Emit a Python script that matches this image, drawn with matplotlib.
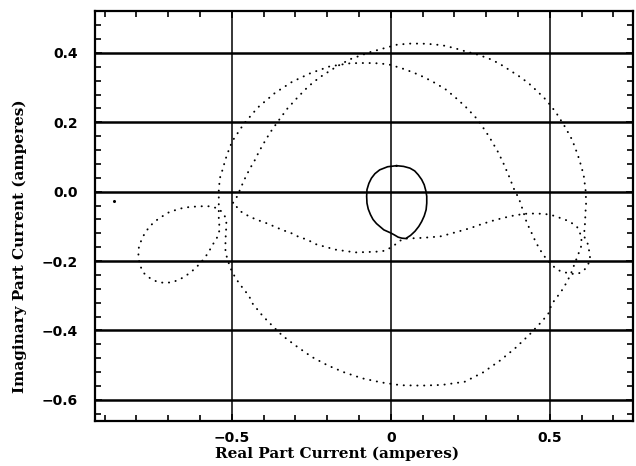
import numpy as np
import matplotlib
matplotlib.use('Agg')
import matplotlib.pyplot as plt
from matplotlib.ticker import MultipleLocator

plt.rcParams['font.family'] = ['DejaVu Serif']
plt.rcParams['font.weight'] = 'bold'

# dotted locus in drawing order (one closed trace)
locus_x = [-0.496, -0.483, -0.472, -0.462, -0.452, -0.439, -0.427, -0.417, -0.404, -0.38,
           -0.353, -0.325, -0.292, -0.26, -0.225, -0.17, -0.128, -0.063, -0.019, 0.02,
           0.06, 0.097, 0.135, 0.168, 0.2, 0.237, 0.27, 0.306, 0.34, 0.371,
           0.403, 0.433, 0.46, 0.488, 0.519, 0.547, 0.57, 0.588, 0.6, 0.607,
           0.613, 0.614, 0.612, 0.611, 0.609, 0.607,
           0.619, 0.624, 0.627, 0.619, 0.607, 0.59, 0.569, 0.554, 0.535, 0.517,
           0.5, 0.487, 0.477, 0.466, 0.456, 0.447, 0.437, 0.427, 0.414, 0.403,
           0.389, 0.371, 0.355, 0.338, 0.309, 0.274, 0.234, 0.205, 0.174, 0.14,
           0.105, 0.07, 0.034, -0.003, -0.035, -0.069, -0.1, -0.13, -0.16, -0.193,
           -0.252, -0.31, -0.364, -0.418, -0.462, -0.499, -0.515, -0.522, -0.528, -0.536,
           -0.539, -0.541, -0.541, -0.541, -0.541, -0.541, -0.538, -0.543, -0.557, -0.57,
           -0.583, -0.6, -0.62, -0.641, -0.662, -0.687, -0.713, -0.736, -0.755, -0.775,
           -0.789, -0.794, -0.792, -0.778, -0.759, -0.731, -0.699, -0.665, -0.633, -0.599,
           -0.565, -0.54, -0.525, -0.517, -0.518, -0.52, -0.52, -0.51, -0.499,
           -0.483, -0.464, -0.446, -0.436, -0.404, -0.383, -0.341, -0.296, -0.249, -0.198,
           -0.146, -0.09, -0.029, 0.032, 0.097, 0.161, 0.232, 0.29, 0.343, 0.39,
           0.436, 0.477, 0.498, 0.505, 0.524, 0.543, 0.565, 0.577, 0.588, 0.598,
           0.6, 0.585, 0.56, 0.54, 0.508, 0.484, 0.456, 0.43, 0.405, 0.379,
           0.33, 0.287, 0.25, 0.215, 0.184, 0.155, 0.1, 0.05, 0.037, 0.016,
           -0.016, -0.047, -0.111, -0.174, -0.237, -0.263, -0.288, -0.314, -0.342, -0.367,
           -0.393, -0.421, -0.446, -0.472, -0.496]
locus_y = [-0.032, -0.013, 0.011, 0.032, 0.051, 0.073, 0.092, 0.111, 0.133, 0.17,
           0.205, 0.24, 0.273, 0.303, 0.329, 0.361, 0.382, 0.403, 0.414, 0.424,
           0.427, 0.427, 0.425, 0.421, 0.414, 0.404, 0.396, 0.385, 0.37, 0.352,
           0.333, 0.313, 0.29, 0.265, 0.229, 0.188, 0.15, 0.106, 0.07, 0.044,
           0.0, -0.037, -0.06, -0.086, -0.11, -0.127,
           -0.15, -0.172, -0.194, -0.213, -0.227, -0.236, -0.237, -0.234, -0.23, -0.22,
           -0.205, -0.191, -0.179, -0.162, -0.146, -0.127, -0.108, -0.088, -0.05, -0.02,
           0.004, 0.046, 0.08, 0.113, 0.159, 0.207, 0.246, 0.27, 0.294, 0.313,
           0.33, 0.344, 0.356, 0.366, 0.37, 0.371, 0.371, 0.37, 0.366, 0.361,
           0.342, 0.317, 0.285, 0.243, 0.196, 0.145, 0.107, 0.087, 0.066, 0.046,
           0.025, 0.006, -0.02, -0.045, -0.061, -0.083, -0.107, -0.127, -0.148, -0.169,
           -0.188, -0.207, -0.225, -0.24, -0.252, -0.261, -0.263, -0.259, -0.251, -0.236,
           -0.213, -0.186, -0.156, -0.127, -0.1, -0.078, -0.06, -0.049, -0.044, -0.042,
           -0.042, -0.05, -0.065, -0.081, -0.11, -0.14, -0.175, -0.205, -0.232,
           -0.256, -0.28, -0.3, -0.321, -0.357, -0.377, -0.415, -0.446, -0.476, -0.501,
           -0.521, -0.538, -0.55, -0.558, -0.559, -0.557, -0.548, -0.521, -0.487, -0.452,
           -0.412, -0.372, -0.348, -0.325, -0.302, -0.278, -0.24, -0.21, -0.184, -0.159,
           -0.13, -0.1, -0.085, -0.078, -0.068, -0.064, -0.063, -0.063, -0.066, -0.07,
           -0.081, -0.093, -0.105, -0.114, -0.122, -0.129, -0.133, -0.135, -0.136, -0.151,
           -0.17, -0.173, -0.175, -0.167, -0.151, -0.138, -0.131, -0.119, -0.11, -0.1,
           -0.09, -0.081, -0.071, -0.057, -0.032]

# small solid loop around the origin
loop_x = [0.018, 0.04, 0.06, 0.075, 0.086, 0.097, 0.105, 0.11, 0.113, 0.113, 0.111,
          0.105, 0.097, 0.088, 0.076, 0.062, 0.047, 0.035, 0.023, 0.012,
          0.0, -0.022, -0.045, -0.056, -0.064, -0.071, -0.075, -0.076, -0.075, -0.069,
          -0.061, -0.05, -0.035, -0.01, 0.018]
loop_y = [0.075, 0.073, 0.068, 0.06, 0.049, 0.035, 0.02, 0.003, -0.013, -0.033, -0.052,
          -0.07, -0.086, -0.1, -0.114, -0.126, -0.135, -0.134, -0.131, -0.125,
          -0.119, -0.11, -0.092, -0.08, -0.066, -0.05, -0.033, -0.013, 0.006, 0.024,
          0.039, 0.052, 0.063, 0.072, 0.075]

stray_x = [-0.871]
stray_y = [-0.028]

xticks = [-0.5, 0, 0.5]
xlabels = ['\u22120.5', '0', '0.5']
yticks = [-0.6, -0.4, -0.2, 0.0, 0.2, 0.4]

fig = plt.figure(figsize=(6.36, 4.66), dpi=100)
ax = fig.add_axes([0.149, 0.0966, 0.846, 0.8798])

for y in yticks:
    ax.axhline(y, color='black', lw=1.8, zorder=1)
for x in xticks:
    ax.axvline(x, color='black', lw=1.1, zorder=1)

ax.plot(locus_x, locus_y, color='black', lw=1.4,
        linestyle=(0, (0.1, 3.4)), dash_capstyle='round', zorder=3)
ax.plot(loop_x, loop_y, color='black', lw=1.2, zorder=3)
ax.plot(stray_x, stray_y, 'o', color='black', ms=1.2, zorder=3)

ax.set_xlim(-0.931, 0.761)
ax.set_ylim(-0.661, 0.521)
ax.set_xticks(xticks)
ax.set_xticklabels(xlabels)
ax.set_yticks(yticks)
ax.set_yticklabels([('%.1f' % v).replace('-', '\u2212') for v in yticks])
ax.xaxis.set_minor_locator(MultipleLocator(0.1))
ax.yaxis.set_minor_locator(MultipleLocator(0.04))
ax.tick_params(which='both', direction='in', top=True, right=True, width=1.2)
ax.tick_params(which='major', length=5, labelsize=10, pad=7)
ax.tick_params(axis='y', which='major', pad=12)
ax.tick_params(which='minor', length=4)
for lab in ax.get_xticklabels() + ax.get_yticklabels():
    lab.set_family('DejaVu Sans')
    lab.set_fontweight('bold')
for s in ax.spines.values():
    s.set_linewidth(1.6)

ax.set_xlabel('Real Part Current (amperes)', fontsize=11, fontweight='bold')
ax.set_ylabel('Imaginary Part Current (amperes)', fontsize=11, fontweight='bold')
ax.xaxis.set_label_coords(0.45, -0.063)
ax.yaxis.set_label_coords(-0.126, 0.426)

fig.savefig('out.png', dpi=100)
